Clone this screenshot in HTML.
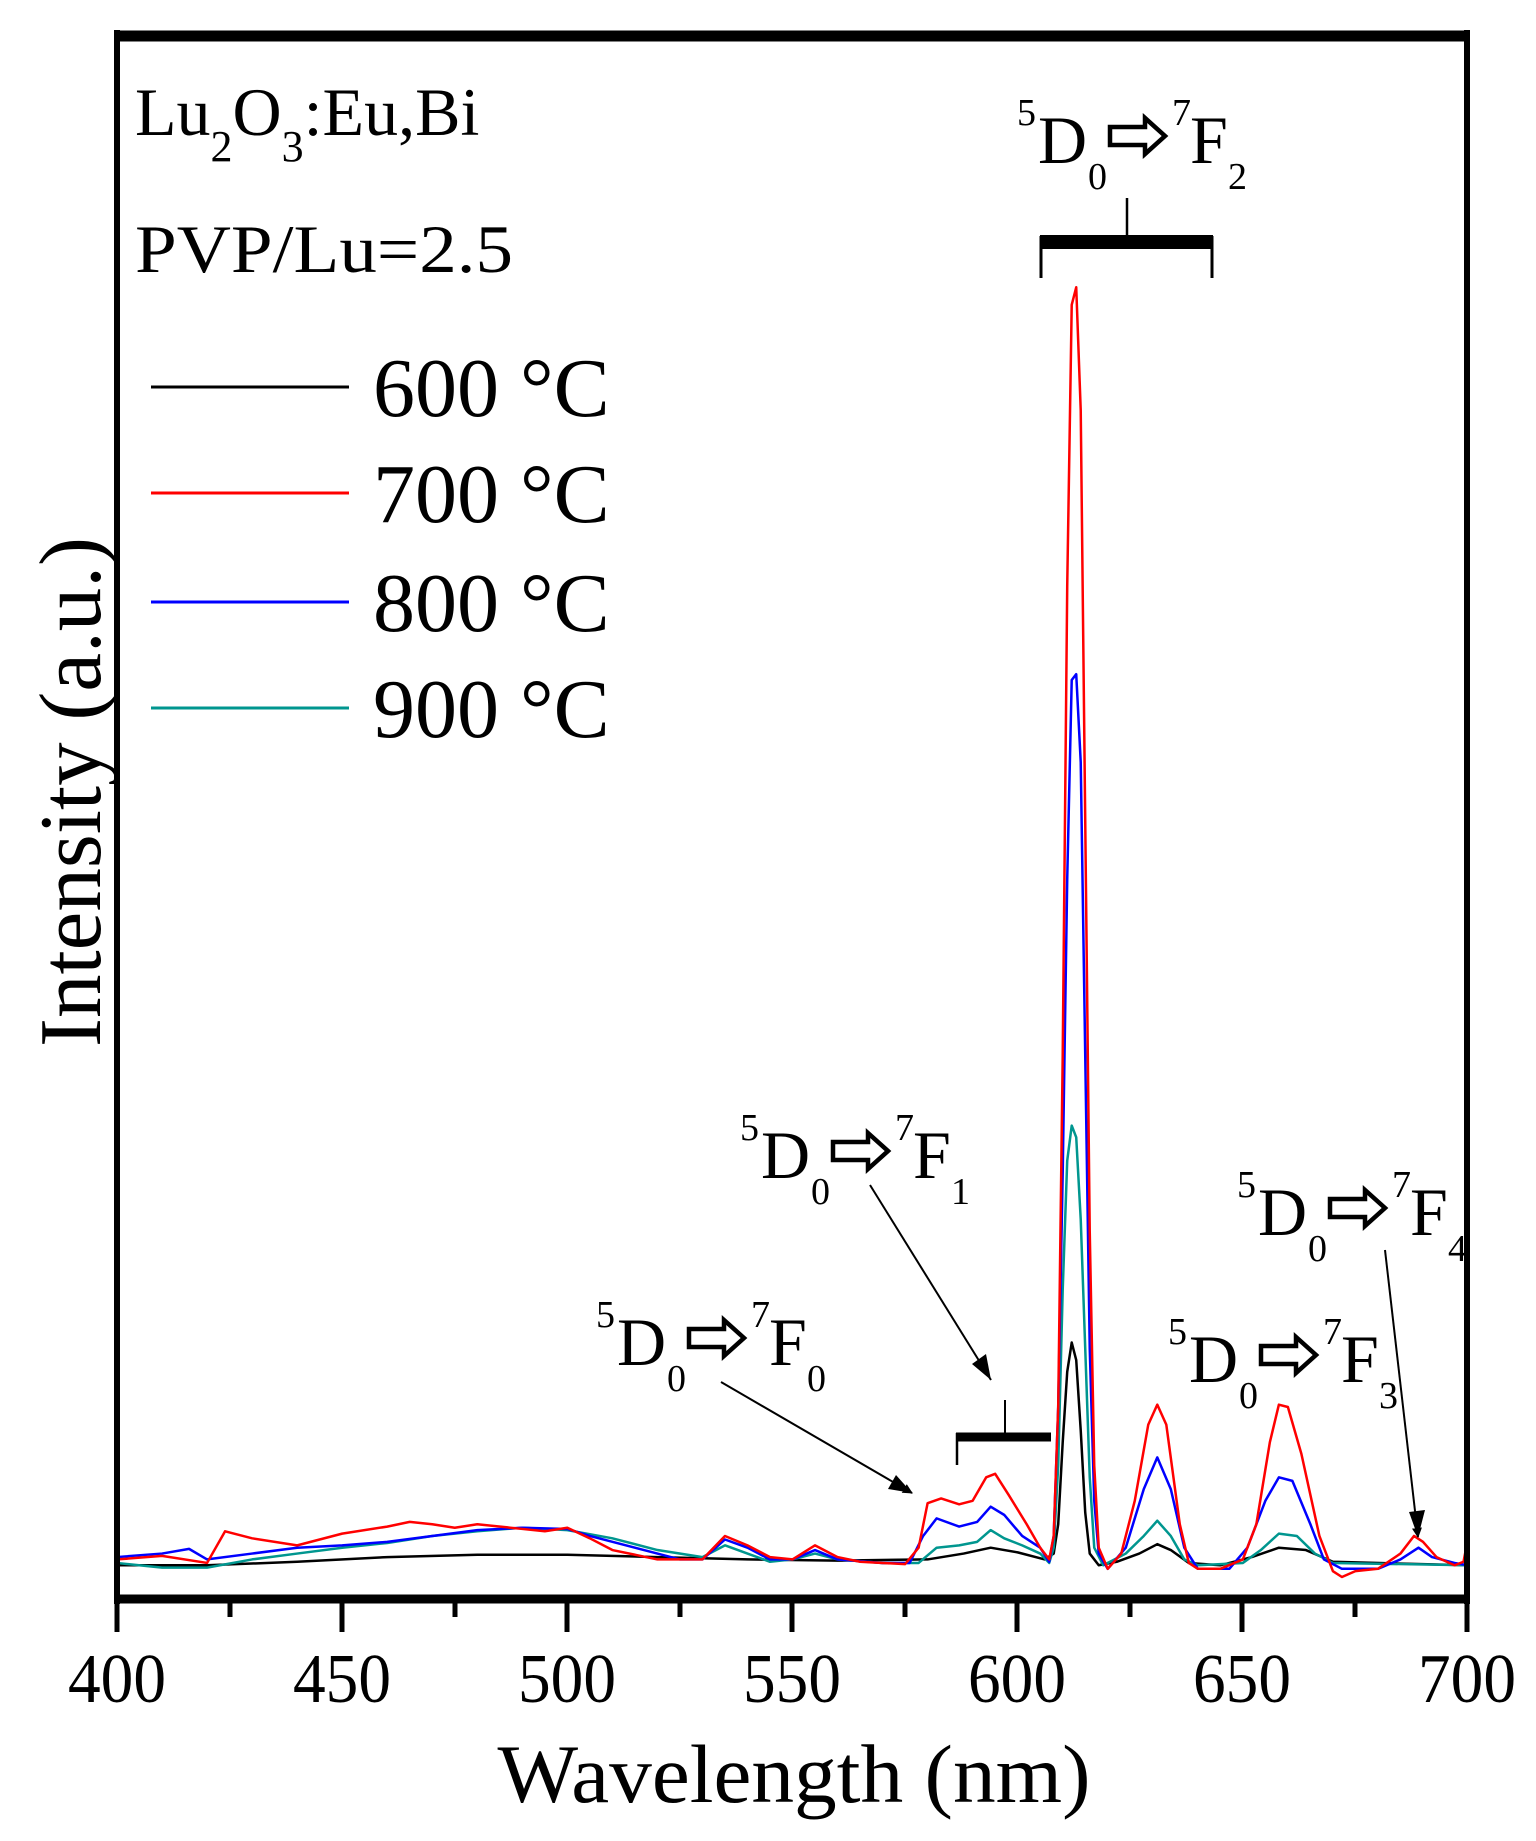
<!DOCTYPE html>
<html><head><meta charset="utf-8"><style>
html,body{margin:0;padding:0;background:#fff;}
svg{display:block;}
text{font-family:"Liberation Serif",serif;fill:#000;}
</style></head><body>
<svg width="1536" height="1841" viewBox="0 0 1536 1841" xmlns="http://www.w3.org/2000/svg">
<defs>
<g id="arr"><path d="M0,-36 L35,-36 L35,-45 L55,-27 L35,-9 L35,-18 L0,-18 Z" fill="none" stroke="#000" stroke-width="4.5" stroke-linejoin="miter"/></g>
<marker id="ah" markerWidth="10" markerHeight="10" refX="9" refY="5" orient="auto" markerUnits="userSpaceOnUse" viewBox="0 0 10 10"><path d="M0,0 L10,5 L0,10 Z" fill="#000"/></marker>
</defs>

<!-- curves -->
<g transform="matrix(4.5033,0,0,1.1725,-1684.3,0)" fill="none" stroke-linejoin="round">
<polyline vector-effect="non-scaling-stroke" stroke="#000" stroke-width="2.5" points="400,1335 420,1335 440,1332 460,1328 480,1326 500,1326 520,1328 540,1330 560,1331 580,1330 588,1325 594,1320 600,1324 606,1330 608,1325 609,1300 610,1230 611,1170 612,1145 613,1160 614,1220 615,1290 616,1325 618,1335 622,1332 627,1325 631,1317 634,1322 638,1333 645,1335 652,1328 658,1320 664,1322 670,1332 700,1335"/>
<polyline vector-effect="non-scaling-stroke" stroke="#00968f" stroke-width="2.5" points="400,1333 410,1337 420,1337 430,1330 440,1325 450,1320 460,1316 470,1310 480,1306 490,1303 500,1305 510,1312 520,1322 530,1328 535,1318 540,1325 545,1332 550,1330 555,1325 560,1330 570,1333 578,1333 582,1320 587,1318 591,1315 594,1305 597,1312 601,1318 605,1325 607,1333 608,1320 609,1250 610,1100 611,990 612,960 613,970 614,1040 615,1150 616,1260 617,1320 619,1335 624,1325 628,1310 631,1297 634,1310 637,1330 640,1335 650,1333 654,1322 658,1308 662,1310 666,1325 670,1333 700,1335"/>
<polyline vector-effect="non-scaling-stroke" stroke="#0000ff" stroke-width="2.5" points="400,1328 410,1325 416,1321 420,1330 430,1325 440,1320 450,1318 460,1315 470,1310 480,1305 490,1303 500,1304 505,1310 515,1320 525,1330 530,1330 535,1313 540,1320 545,1330 550,1330 555,1322 560,1330 570,1333 576,1333 579,1310 582,1295 587,1302 591,1298 594,1285 597,1292 601,1310 605,1320 607,1332 608,1310 609,1200 610,1000 611,750 612,580 613,575 614,650 615,900 616,1150 617,1280 618,1325 620,1338 624,1320 628,1270 631,1243 634,1270 637,1320 640,1338 647,1338 651,1320 655,1280 658,1260 661,1263 665,1300 668,1330 672,1338 680,1338 685,1330 689,1320 692,1328 697,1333 700,1335"/>
<polyline vector-effect="non-scaling-stroke" stroke="#ff0000" stroke-width="2.5" points="400,1330 410,1327 420,1333 424,1306 430,1312 440,1318 450,1308 460,1302 465,1298 470,1300 475,1303 480,1300 490,1304 495,1306 500,1303 505,1312 510,1322 520,1330 530,1330 535,1310 540,1318 545,1328 550,1330 555,1318 560,1328 565,1332 570,1333 575,1334 578,1320 580,1282 583,1278 587,1283 590,1280 593,1260 595,1257 598,1275 602,1300 605,1320 607,1330 608,1310 609,1200 610,900 611,500 612,260 613,245 614,350 615,700 616,1050 617,1250 618,1320 620,1338 623,1325 626,1280 629,1215 631,1198 633,1215 636,1300 638,1333 640,1338 645,1338 650,1330 653,1300 656,1230 658,1198 660,1200 663,1240 667,1310 670,1340 672,1345 675,1340 680,1338 685,1325 688,1310 690,1315 693,1328 697,1335 699,1332 700,1312"/>
</g>

<!-- frame -->
<rect x="117" y="35" width="1350" height="564" fill="none" stroke="none"/>
<line x1="117" y1="30" x2="117" y2="1604" stroke="#000" stroke-width="6"/>
<line x1="1467" y1="30" x2="1467" y2="1604" stroke="#000" stroke-width="6"/>
<line x1="114" y1="36" x2="1470" y2="36" stroke="#000" stroke-width="11"/>
<line x1="114" y1="1599" x2="1470" y2="1599" stroke="#000" stroke-width="9"/>
<g stroke="#000" stroke-width="5">
<line x1="117" y1="1599" x2="117" y2="1632"/>
<line x1="342" y1="1599" x2="342" y2="1632"/>
<line x1="567" y1="1599" x2="567" y2="1632"/>
<line x1="792" y1="1599" x2="792" y2="1632"/>
<line x1="1017" y1="1599" x2="1017" y2="1632"/>
<line x1="1242" y1="1599" x2="1242" y2="1632"/>
<line x1="1467" y1="1599" x2="1467" y2="1632"/>
<line x1="230" y1="1599" x2="230" y2="1617"/>
<line x1="455" y1="1599" x2="455" y2="1617"/>
<line x1="680" y1="1599" x2="680" y2="1617"/>
<line x1="905" y1="1599" x2="905" y2="1617"/>
<line x1="1130" y1="1599" x2="1130" y2="1617"/>
<line x1="1355" y1="1599" x2="1355" y2="1617"/>
</g>
<g font-size="70" text-anchor="middle">
<text x="117" y="1702" textLength="98" lengthAdjust="spacingAndGlyphs">400</text>
<text x="342" y="1702" textLength="98" lengthAdjust="spacingAndGlyphs">450</text>
<text x="567" y="1702" textLength="98" lengthAdjust="spacingAndGlyphs">500</text>
<text x="792" y="1702" textLength="98" lengthAdjust="spacingAndGlyphs">550</text>
<text x="1017" y="1702" textLength="98" lengthAdjust="spacingAndGlyphs">600</text>
<text x="1242" y="1702" textLength="98" lengthAdjust="spacingAndGlyphs">650</text>
<text x="1467" y="1702" textLength="98" lengthAdjust="spacingAndGlyphs">700</text>
</g>
<text x="794" y="1802" font-size="83" text-anchor="middle" textLength="593" lengthAdjust="spacingAndGlyphs">Wavelength (nm)</text>
<text transform="translate(100,792) rotate(-90)" font-size="88" text-anchor="middle" textLength="510" lengthAdjust="spacingAndGlyphs">Intensity (a.u.)</text>

<!-- top-left labels -->
<text x="135" y="135" font-size="68">Lu<tspan font-size="44" dy="26">2</tspan><tspan dy="-26">O</tspan><tspan font-size="44" dy="26">3</tspan><tspan dy="-26">:Eu,Bi</tspan></text>
<text x="135" y="272" font-size="68" textLength="378" lengthAdjust="spacingAndGlyphs">PVP/Lu=2.5</text>

<!-- legend -->
<g stroke-width="3">
<line x1="151" y1="387" x2="349" y2="387" stroke="#000"/>
<line x1="151" y1="493" x2="349" y2="493" stroke="#ff0000"/>
<line x1="151" y1="602" x2="349" y2="602" stroke="#0000ff"/>
<line x1="151" y1="708" x2="349" y2="708" stroke="#00968f"/>
</g>
<g font-size="84">
<text x="373" y="416">600 °C</text>
<text x="373" y="522">700 °C</text>
<text x="373" y="631">800 °C</text>
<text x="373" y="737">900 °C</text>
</g>

<!-- annotations: group origin = D left, baseline -->
<g transform="translate(1038,163)">
<text x="-21" y="-38" font-size="38">5</text><text x="0" y="0" font-size="68">D</text><text x="50" y="26" font-size="38">0</text>
<use href="#arr" x="72"/><text x="134" y="-38" font-size="38">7</text><text x="152" y="0" font-size="68">F</text><text x="190" y="26" font-size="38">2</text>
</g>
<g transform="translate(761,1178)">
<text x="-21" y="-38" font-size="38">5</text><text x="0" y="0" font-size="68">D</text><text x="50" y="26" font-size="38">0</text>
<use href="#arr" x="72"/><text x="134" y="-38" font-size="38">7</text><text x="152" y="0" font-size="68">F</text><text x="190" y="26" font-size="38">1</text>
</g>
<g transform="translate(617,1365)">
<text x="-21" y="-38" font-size="38">5</text><text x="0" y="0" font-size="68">D</text><text x="50" y="26" font-size="38">0</text>
<use href="#arr" x="72"/><text x="134" y="-38" font-size="38">7</text><text x="152" y="0" font-size="68">F</text><text x="190" y="26" font-size="38">0</text>
</g>
<g transform="translate(1189,1382)">
<text x="-21" y="-38" font-size="38">5</text><text x="0" y="0" font-size="68">D</text><text x="50" y="26" font-size="38">0</text>
<use href="#arr" x="72"/><text x="134" y="-38" font-size="38">7</text><text x="152" y="0" font-size="68">F</text><text x="190" y="26" font-size="38">3</text>
</g>
<g transform="translate(1258,1235)">
<text x="-21" y="-38" font-size="38">5</text><text x="0" y="0" font-size="68">D</text><text x="50" y="26" font-size="38">0</text>
<use href="#arr" x="72"/><text x="134" y="-38" font-size="38">7</text><text x="152" y="0" font-size="68">F</text><text x="190" y="26" font-size="38">4</text>
</g>

<!-- brackets -->
<g stroke="#000" fill="none">
<line x1="1040" y1="242" x2="1213" y2="242" stroke-width="14"/>
<line x1="1041" y1="236" x2="1041" y2="278" stroke-width="3"/>
<line x1="1212" y1="236" x2="1212" y2="278" stroke-width="3"/>
<line x1="1127" y1="198" x2="1127" y2="240" stroke-width="2.5"/>
<line x1="956" y1="1437" x2="1051" y2="1437" stroke-width="9"/>
<line x1="957" y1="1433" x2="957" y2="1465" stroke-width="2.5"/>
<line x1="1005" y1="1400" x2="1005" y2="1437" stroke-width="2"/>
</g>
<!-- pointer arrows -->
<g stroke="#000" stroke-width="2" marker-end="url(#ah)">
<line x1="870" y1="1185" x2="991" y2="1380" marker-end="url(#ah2)"/>
<line x1="721" y1="1382" x2="912" y2="1493"/>
<line x1="1385" y1="1250" x2="1418" y2="1537"/>
</g>
<path d="M991,1380 L972,1364 L986,1354 Z" fill="#000"/>
<path d="M912,1493 L888,1489 L896,1475 Z" fill="#000"/>
<path d="M1418,1537 L1409,1512 L1425,1510 Z" fill="#000"/>
</svg>
</body></html>
